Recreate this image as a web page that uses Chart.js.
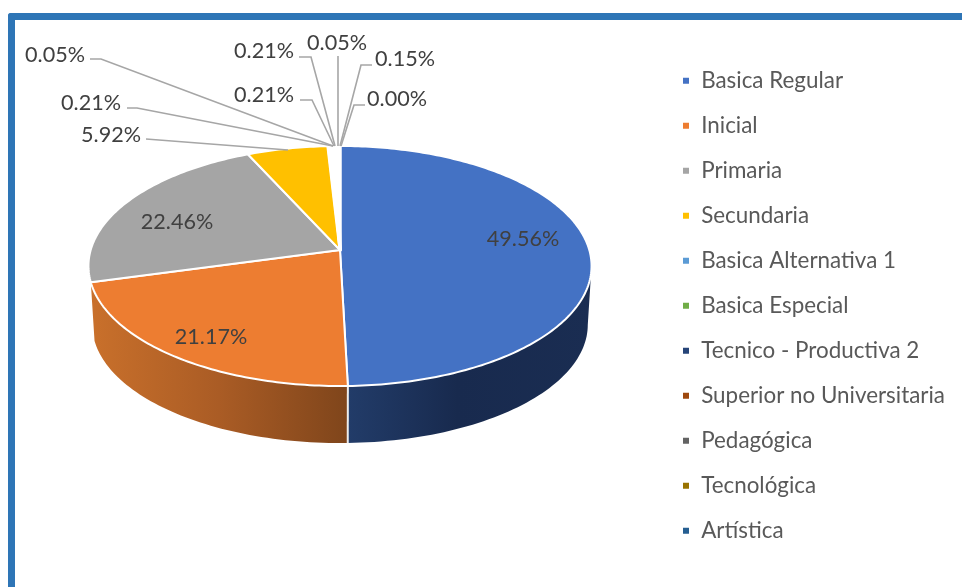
<!DOCTYPE html>
<html>
<head>
<meta charset="utf-8">
<style>
  html, body { margin: 0; padding: 0; background: #fff; overflow: hidden; }
  #frame {
    position: absolute; left: 8px; top: 13px; width: 960px; height: 590px;
    border-left: 7px solid #2E75B6; border-top: 7px solid #2E75B6;
    border-top-left-radius: 3px; box-sizing: border-box;
  }
  #chart { position: absolute; left: 0; top: 0; }
</style>
</head>
<body>
<div id="frame"></div>
<canvas id="chart" width="962" height="587"></canvas>
<script src="https://cdn.jsdelivr.net/npm/chart.js@4"></script>
<script>
const categories = ['Basica Regular', 'Inicial', 'Primaria', 'Secundaria', 'Basica Alternativa 1',
    'Basica Especial', 'Tecnico - Productiva 2', 'Superior no Universitaria', 'Pedagógica', 'Tecnológica', 'Artística'];
const shares = [49.56, 21.17, 22.46, 5.92, 0.21, 0.05, 0.21, 0.21, 0.05, 0.15, 0.00];
const colors = ['#4472C4', '#ED7D31', '#A5A5A5', '#FFC000', '#5B9BD5', '#70AD47', '#264478', '#9E480E', '#636363', '#997300', '#255E91'];

// side wall shading, left to right
const wallStops = {
    0: [[0, '#223C69'], [0.45, '#182A4E'], [1, '#1A2D52']],
    1: [[0, '#C9702B'], [0.5, '#AA5C25'], [1, '#7F451B']]
};

// where each value label sits, and the leader line from it to the pie
const labelLayout = [
    { x: 523, y: 239 },
    { x: 211, y: 337 },
    { x: 177, y: 222 },
    { x: 111, y: 135, line: [[146, 139], [288, 150]] },
    { x: 91, y: 103, line: [[127, 108], [137, 108], [333, 146]] },
    { x: 55, y: 55, line: [[90, 59], [101, 59], [333, 146]] },
    { x: 264, y: 95, line: [[300, 100], [312, 100], [334, 146]] },
    { x: 264, y: 51, line: [[299, 57], [311, 57], [335, 146]] },
    { x: 337, y: 43, line: [[338, 56], [338, 146]] },
    { x: 405, y: 59, line: [[372, 65], [361, 65], [340, 146]] },
    { x: 397, y: 99, line: [[365, 105], [354, 105], [341, 146]] }
];

// tilted pie: unit circle to screen, the far side is foreshortened
const pie = { x: 340, y: 250, f: 249.3, g: 117.9, k: 0.1333, depth: 57, bottomY: 386, shrink: 0.985 };
const FRONT_FROM = 97.7 * Math.PI / 180;
const FRONT_TO = 262.3 * Math.PI / 180;

function rim(theta) {
    const X = Math.sin(theta);
    const Y = -Math.cos(theta);
    const d = 1 - pie.k * Y;
    return [pie.x + pie.f * X / d, pie.y + pie.g * Y / d];
}

function rimLow(theta) {
    const p = rim(theta);
    return [pie.x + (p[0] - pie.x) * pie.shrink, pie.bottomY + pie.depth - (pie.bottomY - p[1]) * pie.shrink];
}

const tiltedPie = {
    id: 'tiltedPie',
    beforeDatasetsDraw(chart) {
        const ctx = chart.ctx;
        const arcs = chart.getDatasetMeta(0).data;
        ctx.save();
        ctx.lineJoin = 'round';

        arcs.forEach((arc, i) => {
            const from = Math.max(arc.startAngle + Math.PI / 2, FRONT_FROM);
            const to = Math.min(arc.endAngle + Math.PI / 2, FRONT_TO);
            if (to <= from || !wallStops[i]) return;
            const steps = 60;
            const top = [];
            const low = [];
            for (let s = 0; s <= steps; s++) {
                const t = from + (to - from) * s / steps;
                top.push(rim(t));
                low.push(rimLow(t));
            }
            const xs = top.concat(low).map(p => p[0]);
            const grad = ctx.createLinearGradient(Math.min(...xs), 0, Math.max(...xs), 0);
            wallStops[i].forEach(st => grad.addColorStop(st[0], st[1]));
            ctx.beginPath();
            top.forEach((p, n) => n ? ctx.lineTo(p[0], p[1]) : ctx.moveTo(p[0], p[1]));
            low.reverse().forEach(p => ctx.lineTo(p[0], p[1]));
            ctx.closePath();
            ctx.fillStyle = grad;
            ctx.fill();
        });

        // seam between the blue and orange walls
        const seam = arcs[0].endAngle + Math.PI / 2;
        const a = rim(seam);
        const b = rimLow(seam);
        ctx.strokeStyle = '#EDEDED';
        ctx.lineWidth = 2;
        ctx.beginPath();
        ctx.moveTo(a[0], a[1]);
        ctx.lineTo(b[0], b[1]);
        ctx.stroke();

        arcs.forEach((arc, i) => {
            const from = arc.startAngle + Math.PI / 2;
            const to = arc.endAngle + Math.PI / 2;
            const steps = Math.max(2, Math.ceil((to - from) * 60));
            ctx.beginPath();
            ctx.moveTo(pie.x, pie.y);
            for (let s = 0; s <= steps; s++) {
                const p = rim(from + (to - from) * s / steps);
                ctx.lineTo(p[0], p[1]);
            }
            ctx.closePath();
            ctx.fillStyle = colors[i];
            ctx.fill();
            ctx.strokeStyle = '#FFFFFF';
            // the thin slices nearly vanish under their borders
            ctx.lineWidth = shares[i] < 1 ? 3 : 2;
            ctx.stroke();
        });
        ctx.restore();
        return false;
    },
    afterDraw(chart) {
        const ctx = chart.ctx;
        ctx.save();
        ctx.strokeStyle = '#A6A6A6';
        ctx.lineWidth = 1.6;
        labelLayout.forEach(l => {
            if (!l.line) return;
            ctx.beginPath();
            l.line.forEach((p, n) => n ? ctx.lineTo(p[0], p[1]) : ctx.moveTo(p[0], p[1]));
            ctx.stroke();
        });
        ctx.font = '21.6px Lato';
        ctx.fillStyle = '#404040';
        ctx.textAlign = 'center';
        ctx.textBaseline = 'middle';
        labelLayout.forEach((l, i) => ctx.fillText(shares[i].toFixed(2) + '%', l.x, l.y));
        ctx.restore();
    }
};

new Chart(document.getElementById('chart'), {
    type: 'pie',
    data: {
        labels: categories,
        datasets: [{ data: shares, backgroundColor: colors, borderColor: '#FFFFFF' }]
    },
    plugins: [tiltedPie],
    options: {
        responsive: false,
        animation: false,
        layout: { padding: { top: 47, bottom: 0, right: 7 } },
        plugins: {
            tooltip: { enabled: false },
            legend: {
                position: 'right',
                align: 'start',
                labels: {
                    boxWidth: 8,
                    boxHeight: 8,
                    padding: 22.6,
                    color: '#595959',
                    font: { family: 'Lato', size: 22.4 }
                }
            }
        }
    }
});
</script>
</body>
</html>
